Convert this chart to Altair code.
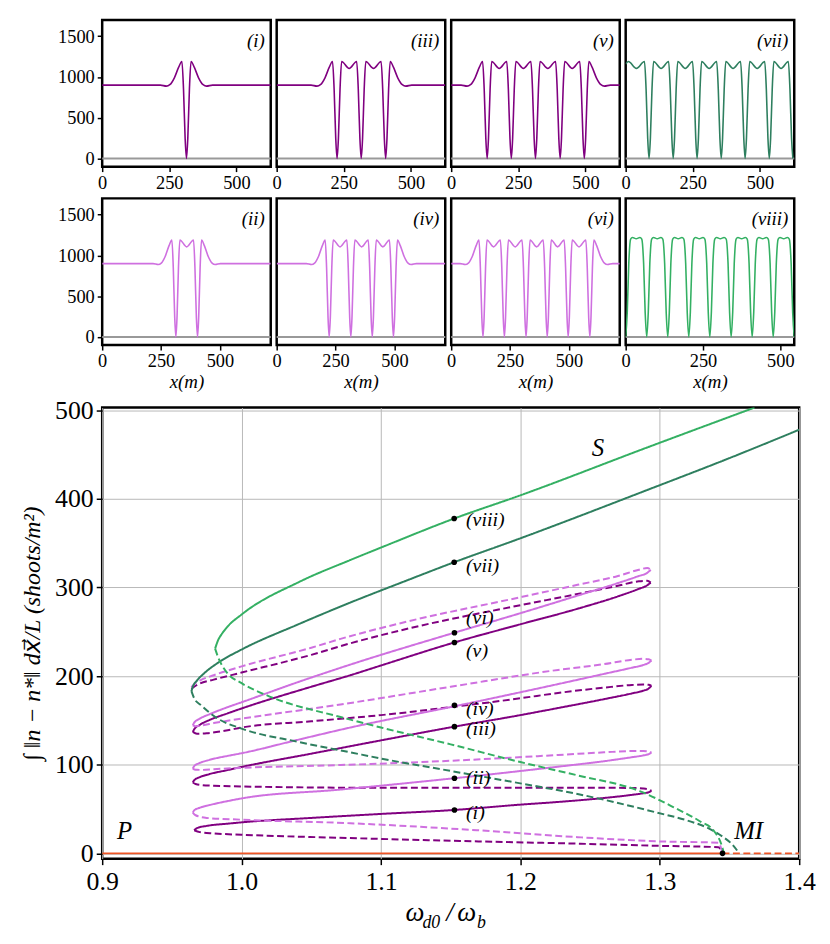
import altair as alt
import pandas as pd

# ---------------- top panels: density profiles n(x) ----------------
p1_x = [0,217,239,252,269,285,297,303,309,314,319,325,331,343,359,376,389,411,628]
p1_y = [900,900,888,905,990,1120,1190,850,250,0,250,850,1190,1120,990,905,888,900,900]

p3_x = [0,128,150,163,180,196,208,214,220,225,230,236,242,270,298,304,310,315,320,326,332,361,389,395,401,406,411,417,423,435,451,468,481,503,628]
p3_y = [900,900,888,905,990,1120,1190,850,250,0,250,850,1190,1105,1190,850,250,0,250,850,1190,1105,1190,850,250,0,250,850,1190,1120,990,905,888,900,900]

p5_x = [0,37,59,72,89,105,117,123,129,134,139,145,151,179,207,213,219,224,229,235,241,269,297,303,309,314,319,325,331,360,389,395,401,406,411,417,423,451,479,485,491,496,501,507,513,525,541,558,571,593,628]
p5_y = [900,900,888,905,990,1120,1190,850,250,0,250,850,1190,1105,1190,850,250,0,250,850,1190,1105,1190,850,250,0,250,850,1190,1105,1190,850,250,0,250,850,1190,1105,1190,850,250,0,250,850,1190,1120,990,905,888,900,900]

p7_x = [0,10,40,70,76,82,87,92,98,104,132,160,166,172,177,182,188,194,222,249,255,261,266,271,277,283,311,339,345,351,356,361,367,373,400,428,434,440,445,450,456,462,490,518,524,530,535,540,546,552,579,606,612,618,623]
p7_y = [1160,1190,1105,1190,850,250,0,250,850,1190,1105,1190,850,250,0,250,850,1190,1105,1190,850,250,0,250,850,1190,1105,1190,850,250,0,250,850,1190,1105,1190,850,250,0,250,850,1190,1105,1190,850,250,0,250,850,1190,1105,1190,850,250,0]

p2_x = [0,216,238,251,268,284,296,302,308,313,318,324,330,359,388,394,400,405,410,416,422,434,450,467,480,502,716]
p2_y = [900,900,888,905,990,1120,1190,850,250,0,250,850,1190,1105,1190,850,250,0,250,850,1190,1120,990,905,888,900,900]

p4_x = [0,126,148,161,178,194,206,212,218,223,228,234,240,269,298,304,310,315,320,326,332,361,389,395,401,406,411,417,423,451,479,485,491,496,501,507,513,525,541,558,571,593,716]
p4_y = [900,900,888,905,990,1120,1190,850,250,0,250,850,1190,1105,1190,850,250,0,250,850,1190,1105,1190,850,250,0,250,850,1190,1105,1190,850,250,0,250,850,1190,1120,990,905,888,900,900]

p6_x = [0,38,60,73,90,106,118,124,130,135,140,146,152,180,209,215,221,226,231,237,243,272,301,307,313,318,323,329,335,363,391,397,403,408,413,419,425,452,480,486,492,497,502,508,514,543,572,578,584,589,594,600,606,618,634,651,664,686,716]
p6_y = [900,900,888,905,990,1120,1190,850,250,0,250,850,1190,1105,1190,850,250,0,250,850,1190,1105,1190,850,250,0,250,850,1190,1105,1190,850,250,0,250,850,1190,1105,1190,850,250,0,250,850,1190,1105,1190,850,250,0,250,850,1190,1120,990,905,888,900,900]

p8_x = [0,5,10,16,22,34,46,52,58,63,68,73,78,84,90,102,114,120,126,131,136,141,146,152,158,170,182,188,194,199,204,209,214,220,226,238,250,256,262,267,272,277,282,288,294,306,318,325,331,336,341,346,351,357,363,375,387,393,399,404,409,414,419,425,431,443,455,461,467,472,477,482,487,493,499,511,523,529,535,540,545]
p8_y = [0,300,900,1200,1220,1205,1220,1200,900,300,0,300,900,1200,1220,1205,1220,1200,900,300,0,300,900,1200,1220,1205,1220,1200,900,300,0,300,900,1200,1220,1205,1220,1200,900,300,0,300,900,1200,1220,1205,1220,1200,900,300,0,300,900,1200,1220,1205,1220,1200,900,300,0,300,900,1200,1220,1205,1220,1200,900,300,0,300,900,1200,1220,1205,1220,1200,900,300,0]

# domain lengths (m)
L_odd, L_even, L_viii = 628, 716, 545

# ---------------- bottom panel: bifurcation branches ----------------
# odd (dark purple) snake
od1_x = [0.966,0.97,0.98,1.0,1.07,1.17,1.24,1.30,1.342,1.345]
od1_y = [26,24,22.5,21,17.6,13.5,11,8.5,7,0]
os1_x = [0.966,0.968,0.975,0.99,1.0,1.05,1.1,1.1527,1.2,1.227,1.26,1.28,1.288,1.292,1.294]
os1_y = [26,28.5,31,33.5,35,40,44.5,49,55,58,62.5,66,67.8,69,70.5]
od2_x = [0.965,0.967,0.972,0.98,1.0,1.1,1.2,1.26,1.28,1.288,1.292,1.294]
od2_y = [80,78.3,77,76.3,75.5,74,74,74,73.8,73.2,72.2,70.5]
os2_x = [0.965,0.966,0.97,0.977,0.99,1.0,1.05,1.1,1.1527,1.2,1.227,1.26,1.28,1.288,1.292,1.294]
os2_y = [80,82.5,86,89.5,94,97.5,112.5,127.5,143,156,164,174,180.5,183.5,186,189]
od3_x = [0.965,0.968,0.975,0.99,1.0,1.05,1.1,1.1527,1.2,1.227,1.26,1.28,1.288,1.292,1.294]
od3_y = [137,135,135.5,139,142,149,156,165.5,175,181,187,190,190.5,190.3,189]
os3_x = [0.965,0.966,0.97,0.977,0.99,1.0,1.05,1.078,1.1,1.1527,1.2,1.241,1.27,1.285,1.291,1.2935]
os3_y = [137,140,145,150.5,158,163.5,188,201,212,238,258.5,276,290,298.5,302.5,305.5]
od4_x = [0.964,0.966,0.97,0.98,1.0,1.05,1.078,1.1205,1.2,1.239,1.27,1.285,1.291,1.2935]
od4_y = [185.5,188,191.5,196,204,224,237,254,280,292,302,307,307.5,305.5]

# even (light purple) snake
ed1_x = [0.965,0.967,0.975,1.0,1.078,1.17,1.241,1.30,1.342,1.345]
ed1_y = [46,43,40,38,34,26,18.3,13.5,12,0]
es1_x = [0.965,0.966,0.97,0.977,0.99,1.0,1.071,1.1527,1.227,1.26,1.28,1.288,1.292,1.294]
es1_y = [46,48.5,51.5,54.5,59,62,72,84.8,97.8,104,108.5,110.5,112,113.5]
ed2_x = [0.965,0.967,0.972,0.98,1.0,1.071,1.15,1.227,1.26,1.28,1.288,1.292,1.294]
ed2_y = [95.5,94.3,94.2,95,96.5,99.7,104.5,111,114,115.5,115.6,115,113.5]
es2_x = [0.965,0.966,0.97,0.977,0.99,1.0,1.04,1.078,1.1527,1.227,1.26,1.28,1.288,1.292,1.294]
es2_y = [95.5,98.5,102,105.5,110,113,128,142,166,191,202.5,209.5,212.5,215,217.5]
ed3_x = [0.965,0.967,0.972,0.98,1.0,1.071,1.15,1.227,1.26,1.28,1.288,1.292,1.294]
ed3_y = [144.5,143.5,144.5,147,152,168,188,207,213.5,218.5,219.5,219,217.5]
es3_x = [0.965,0.966,0.97,0.977,0.99,1.0,1.04,1.078,1.1527,1.2,1.241,1.27,1.285,1.291,1.2935]
es3_y = [144.5,147.5,152,157,165,170.5,193,213,249,271,290.8,305,313,316.5,320]
ed4_x = [0.964,0.966,0.97,0.98,1.0,1.05,1.071,1.12,1.2,1.241,1.27,1.285,1.291,1.2935]
ed4_y = [187.5,191,195,201,211,232,242,262,289,303,313,320,322,320]

# periodic branch (vii), dark green
g7s_x = [0.964,0.965,0.968,0.973,0.983,1.0,1.04,1.078,1.117,1.1525,1.2,1.291,1.35,1.4]
g7s_y = [183,188,195,203,215,230,258,283,307,328.5,355.5,410,446,478]
g7d_x = [0.964,0.966,0.971,0.983,1.0,1.04,1.078,1.1,1.15,1.2,1.241,1.298,1.32,1.334,1.345,1.352,1.357]
g7d_y = [183,175,167,152,140.8,126,114,107,93,79,67,46,37,29,19,10,0]

# periodic branch (viii), light green
g8s_x = [0.981,0.983,0.986,0.99,1.0,1.042,1.078,1.1015,1.1525,1.2,1.291,1.368]
g8s_y = [231,240,248,256,269.5,306.8,331,346,377.8,404,458,503]
g8d_x = [0.981,0.983,0.986,0.99,1.0,1.0186,1.071,1.1,1.15,1.2,1.241,1.286,1.31,1.329,1.339,1.3446,1.346]
g8d_y = [231,222,212,203,192,178,153.8,142,123,103,88,70,52,36,25,8,0]

# uniform state P
pu_s_x = [0.9, 1.345]
pu_s_y = [0, 0]
pu_d_x = [1.345, 1.4]
pu_d_y = [0, 0]

# marked states
pt_x = [1.1527, 1.1527, 1.1527, 1.1527, 1.1527, 1.1527, 1.1525, 1.1525, 1.345]
pt_y = [49, 84.8, 143, 167, 238, 249, 328.5, 377.8, 0]
lab_text = ["(i)", "(ii)", "(iii)", "(iv)", "(v)", "(vi)", "(vii)", "(viii)"]
lab_x = [1.161] * 8
lab_y = [45.5, 85, 140, 163, 228, 266, 324.5, 376]

ann_text = ["S", "P", "MI"]
ann_x = [1.2556, 0.916, 1.3637]
ann_y = [457, 25, 25]

C_ODD = "#800080"
C_EVEN = "#cf70e0"
C_G7 = "#2e7f5f"
C_G8 = "#34b063"
C_P = "#ee5525"

SERIF = "Liberation Serif"

# ---------------- build top panels ----------------
PW, PH = 170, 148


def panel(xs, ys, xmax, color, label, show_y, bottom_row):
    df = pd.DataFrame({"x": xs, "n": ys})
    xaxis = alt.Axis(values=[0, 250, 500], format="d",
                     title="x(m)" if bottom_row else None,
                     titleFontStyle="italic", titleFontWeight="normal", titleFontSize=19,
                     titlePadding=2, labelFontSize=18.5, tickSize=5, tickWidth=1.5,
                     labelPadding=2, domain=False, grid=False, labelFlush=False)
    if show_y:
        yaxis = alt.Axis(values=[0, 500, 1000, 1500], format="d", title=None,
                         labelFontSize=18.5, tickSize=5, tickWidth=1.5, labelPadding=3,
                         domain=False, grid=False)
    else:
        yaxis = None
    xs_ = alt.Scale(domain=[0, xmax], nice=False, zero=False)
    ys_ = alt.Scale(domain=[-100, 1700], nice=False, zero=False)
    zero = alt.Chart(pd.DataFrame({"x": [0, xmax], "n": [0, 0]})).mark_line(
        color="#999999", strokeWidth=2).encode(
        x=alt.X("x:Q", scale=xs_, axis=xaxis), y=alt.Y("n:Q", scale=ys_, axis=yaxis))
    line = alt.Chart(df).mark_line(color=color, strokeWidth=1.6, interpolate="monotone",
                                   clip=True).encode(
        x=alt.X("x:Q", scale=xs_, axis=xaxis), y=alt.Y("n:Q", scale=ys_, axis=yaxis))
    txt = alt.Chart(pd.DataFrame({"t": [label]})).mark_text(
        font=SERIF, fontSize=19, fontStyle="italic", align="right", baseline="middle",
        color="black").encode(x=alt.value(PW - 6), y=alt.value(21), text="t:N")
    return alt.layer(zero, line, txt).properties(width=PW, height=PH)


row1 = alt.hconcat(
    panel(p1_x, p1_y, L_odd, C_ODD, "(i)", True, False),
    panel(p3_x, p3_y, L_odd, C_ODD, "(iii)", False, False),
    panel(p5_x, p5_y, L_odd, C_ODD, "(v)", False, False),
    panel(p7_x, p7_y, L_odd, C_G7, "(vii)", False, False),
    spacing=6, bounds="flush")
row2 = alt.hconcat(
    panel(p2_x, p2_y, L_even, C_EVEN, "(ii)", True, True),
    panel(p4_x, p4_y, L_even, C_EVEN, "(iv)", False, True),
    panel(p6_x, p6_y, L_even, C_EVEN, "(vi)", False, True),
    panel(p8_x, p8_y, L_viii, C_G8, "(viii)", False, True),
    spacing=6, bounds="flush")

# ---------------- build bottom panel ----------------
segments = [
    ("flat", "solid", pu_s_x, pu_s_y), ("flat", "dashed", pu_d_x, pu_d_y),
    ("odd", "dashed", od1_x, od1_y), ("odd", "solid", os1_x, os1_y),
    ("odd", "dashed", od2_x, od2_y), ("odd", "solid", os2_x, os2_y),
    ("odd", "dashed", od3_x, od3_y), ("odd", "solid", os3_x, os3_y),
    ("odd", "dashed", od4_x, od4_y),
    ("even", "dashed", ed1_x, ed1_y), ("even", "solid", es1_x, es1_y),
    ("even", "dashed", ed2_x, ed2_y), ("even", "solid", es2_x, es2_y),
    ("even", "dashed", ed3_x, ed3_y), ("even", "solid", es3_x, es3_y),
    ("even", "dashed", ed4_x, ed4_y),
    ("g7", "solid", g7s_x, g7s_y), ("g7", "dashed", g7d_x, g7d_y),
    ("g8", "solid", g8s_x, g8s_y), ("g8", "dashed", g8d_x, g8d_y),
]
rows = []
for i, (br, st, xs, ys) in enumerate(segments):
    for k, (a, b) in enumerate(zip(xs, ys)):
        rows.append({"w": a, "v": b, "seg": i, "branch": br, "style": st, "k": k})
bdf = pd.DataFrame(rows)

BW, BH = 703, 455
XS = alt.Scale(domain=[0.9, 1.4], nice=False, zero=False)
YS = alt.Scale(domain=[-6, 503], nice=False, zero=False)
bx_axis = alt.Axis(values=[0.9, 1.0, 1.1, 1.2, 1.3, 1.4], format=".1f", title=None,
                   labelFontSize=26, tickSize=6, tickWidth=1.5, labelPadding=4,
                   grid=True, gridColor="#b8b8b8", gridWidth=1, domain=False, labelFlush=False)
by_axis = alt.Axis(values=[0, 100, 200, 300, 400, 500], format="d",
                   title="∫ ‖n − n*‖ dx⃗/L (shoots/m²)",
                   titleFont="Liberation Serif, DejaVu Sans",
                   titleFontSize=24, titleFontStyle="italic", titleFontWeight="normal",
                   titlePadding=10, labelFontSize=26, tickSize=6, tickWidth=1.5,
                   labelPadding=3, grid=True, gridColor="#b8b8b8", gridWidth=1, domain=False)

lines = alt.Chart(bdf).mark_line(strokeWidth=2, interpolate="monotone", clip=True).encode(
    x=alt.X("w:Q", scale=XS, axis=bx_axis),
    y=alt.Y("v:Q", scale=YS, axis=by_axis),
    color=alt.Color("branch:N", scale=alt.Scale(domain=["flat", "odd", "even", "g7", "g8"],
                                                 range=[C_P, C_ODD, C_EVEN, C_G7, C_G8]),
                    legend=None),
    strokeDash=alt.StrokeDash("style:N", scale=alt.Scale(domain=["solid", "dashed"],
                                                         range=[[1, 0], [7, 3.5]]),
                              legend=None),
    detail="seg:N",
)
dots = alt.Chart(pd.DataFrame({"w": pt_x, "v": pt_y})).mark_circle(
    color="black", size=32, opacity=1).encode(x=alt.X("w:Q", scale=XS), y=alt.Y("v:Q", scale=YS))
labs = alt.Chart(pd.DataFrame({"w": lab_x, "v": lab_y, "t": lab_text})).mark_text(
    font=SERIF, fontSize=20, fontStyle="italic", align="left", baseline="middle",
    color="black").encode(x=alt.X("w:Q", scale=XS), y=alt.Y("v:Q", scale=YS), text="t:N")
anns = alt.Chart(pd.DataFrame({"w": ann_x, "v": ann_y, "t": ann_text})).mark_text(
    font=SERIF, fontSize=25, fontStyle="italic", align="center", baseline="middle",
    color="black").encode(x=alt.X("w:Q", scale=XS), y=alt.Y("v:Q", scale=YS), text="t:N")

# x-axis title  ω_{d0}/ω_b  composed of text pieces
xt_parts = ["ω", "d0", "/", "ω", "b"]
xt_px = [306, 323, 347, 358, 378]
xt_py = [518, 525, 518, 518, 525]
xt_fs = [27, 18, 27, 27, 18]
xt_layers = []
for s, px, py, fs in zip(xt_parts, xt_px, xt_py, xt_fs):
    xt_layers.append(alt.Chart(pd.DataFrame({"t": [s]})).mark_text(
        font=SERIF, fontSize=fs, fontStyle="italic", align="left", baseline="alphabetic",
        color="black").encode(x=alt.value(px), y=alt.value(py), text="t:N"))

big = alt.layer(lines, dots, labs, anns, *xt_layers).properties(width=BW, height=BH)

top = alt.vconcat(row1, row2, spacing=3)
chart = alt.vconcat(top, big, spacing=3).properties(
    padding={"left": 11, "top": 6, "right": 5, "bottom": 2}
).configure_view(
    stroke="black", strokeWidth=2.5
).configure_axis(
    labelFont=SERIF, titleFont=SERIF, labelColor="black", titleColor="black",
    tickColor="black"
)

chart.save("out.html", embed_options={"renderer": "svg", "actions": False})
